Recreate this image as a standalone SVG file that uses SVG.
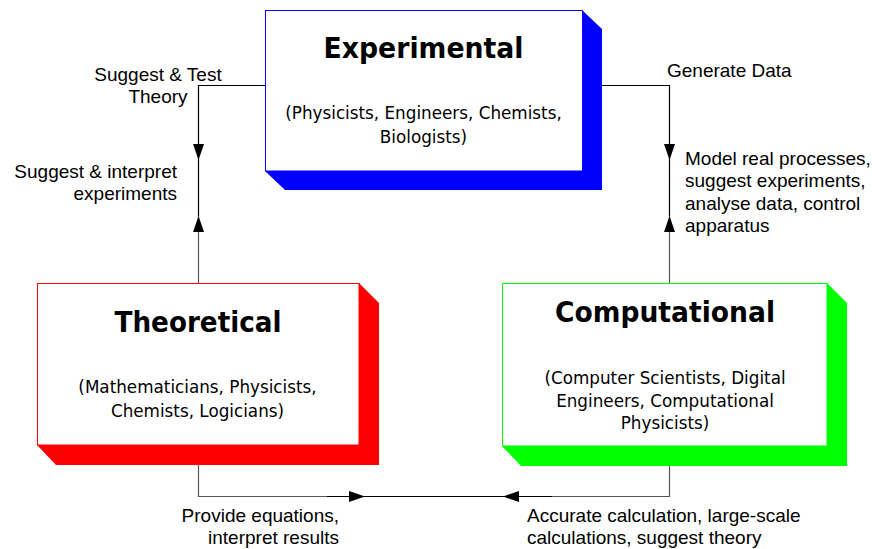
<svg xmlns="http://www.w3.org/2000/svg" width="872" height="549" viewBox="0 0 872 549">
<style>
.face{fill:#ffffff;stroke-width:1}
.title{font-family:"DejaVu Sans",Verdana,sans-serif;font-weight:bold;font-size:29px;text-anchor:middle;fill:#000}
.sub{font-family:"DejaVu Sans",Verdana,sans-serif;font-size:16.8px;text-anchor:middle;fill:#000}
.lbl{font-family:"Liberation Sans",Arial,sans-serif;font-size:19px;fill:#000}
.c{fill:none;stroke:#000;stroke-width:1.2}
.cg{fill:none;stroke:#555;stroke-width:1.2}
</style>
<defs>
<marker id="arr" viewBox="0 0 16 11" refX="16" refY="5.5" markerWidth="16" markerHeight="11" markerUnits="userSpaceOnUse" orient="auto">
<path d="M0,0 L16,5.5 L0,11 z" fill="#000"/>
</marker>
</defs>
<rect width="872" height="549" fill="#ffffff"/>
<g id="connectors">
<path class="c" d="M265,85.5 H198.5 V160" marker-end="url(#arr)"/>
<path class="cg" d="M198.5,283 V216" marker-end="url(#arr)"/>
<path class="c" d="M198.5,160 V216"/>
<path class="c" d="M582,85.5 H669.5 V160" marker-end="url(#arr)"/>
<path class="cg" d="M669.5,283 V216" marker-end="url(#arr)"/>
<path class="c" d="M669.5,160 V216"/>
<path class="cg" d="M198.5,445 V496.5 H365" marker-end="url(#arr)"/>
<path class="cg" d="M669.5,446 V496.5 H503" marker-end="url(#arr)"/>
<path class="c" d="M327,496.5 H552"/>
</g>
<g id="experimental">
<polygon points="582,10 602,29 602,190 285,190 265,171 582,171" fill="#0000ff"/>
<rect class="face" x="265.5" y="10.5" width="317" height="160.5" stroke="#0000ff"/>
<text class="title" x="423.5" y="58" textLength="200" lengthAdjust="spacingAndGlyphs">Experimental</text>
<text class="sub" x="423.5" y="119">(Physicists, Engineers, Chemists,</text>
<text class="sub" x="423.5" y="143">Biologists)</text>
</g>
<g id="theoretical">
<polygon points="359,283 379,303 379,465 56,465 37,445 359,445" fill="#ff0000"/>
<rect class="face" x="37.5" y="283.5" width="321.5" height="161.5" stroke="#ff0000"/>
<text class="title" x="198" y="332" textLength="167" lengthAdjust="spacingAndGlyphs">Theoretical</text>
<text class="sub" x="197.5" y="393">(Mathematicians, Physicists,</text>
<text class="sub" x="197.5" y="417">Chemists, Logicians)</text>
</g>
<g id="computational">
<polygon points="827,283 847,303 847,466 521,466 502,446 827,446" fill="#00ff00"/>
<rect class="face" x="502.5" y="283.5" width="324.5" height="162.5" stroke="#00ff00"/>
<text class="title" x="665" y="321.5" textLength="220" lengthAdjust="spacingAndGlyphs">Computational</text>
<text class="sub" x="665" y="384">(Computer Scientists, Digital</text>
<text class="sub" x="665" y="406.5">Engineers, Computational</text>
<text class="sub" x="665" y="429">Physicists)</text>
</g>
<g id="labels">
<text class="lbl" x="158" y="81" text-anchor="middle">Suggest &amp; Test</text>
<text class="lbl" x="158" y="103" text-anchor="middle">Theory</text>
<text class="lbl" x="177" y="178" text-anchor="end">Suggest &amp; interpret</text>
<text class="lbl" x="177" y="200" text-anchor="end">experiments</text>
<text class="lbl" x="667" y="77">Generate Data</text>
<text class="lbl" x="685" y="164.5">Model real processes,</text>
<text class="lbl" x="685" y="187">suggest experiments,</text>
<text class="lbl" x="685" y="209.5">analyse data, control</text>
<text class="lbl" x="685" y="232">apparatus</text>
<text class="lbl" x="339" y="522" text-anchor="end">Provide equations,</text>
<text class="lbl" x="339" y="544" text-anchor="end">interpret results</text>
<text class="lbl" x="527" y="522">Accurate calculation, large-scale</text>
<text class="lbl" x="527" y="544">calculations, suggest theory</text>
</g>
</svg>
